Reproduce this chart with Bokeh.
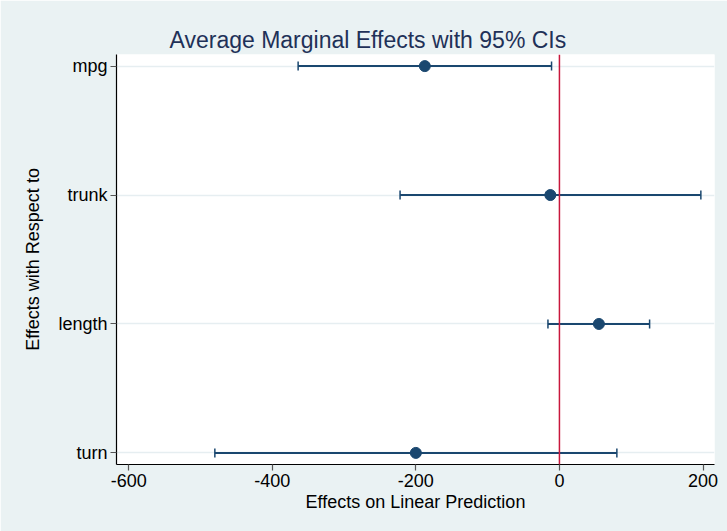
from bokeh.plotting import figure
from bokeh.models import FixedTicker, Span, Whisker, ColumnDataSource, TeeHead, Range1d
from bokeh.embed import file_html
from bokeh.resources import INLINE

# data
variables = ["mpg", "trunk", "length", "turn"]
effects = [-187.5, -12.7, 55.0, -200.0]
ci_low = [-364.0, -222.0, -16.0, -480.0]
ci_high = [-11.0, 197.0, 125.6, 80.0]
x_ticks = [-600, -400, -200, 0, 200]

ypos = [4, 3, 2, 1]
src = ColumnDataSource(dict(y=ypos, x=effects, lo=ci_low, hi=ci_high, name=variables))

NAVY = "#1A476F"
BG = "#EAF2F3"
FONT = "Liberation Sans"

p = figure(width=727, height=531, output_backend="svg", toolbar_location=None,
           x_range=Range1d(-617, 216), y_range=Range1d(0.91, 4.09),
           min_border_left=116, min_border_right=13, min_border_top=54, min_border_bottom=67)
p.background_fill_color = "white"
p.border_fill_color = BG
p.outline_line_color = None

p.title.text = "Average Marginal Effects with 95% CIs"
p.title.align = "left"
p.title.offset = 53
p.title.text_font = FONT
p.title.text_font_size = "23px"
p.title.text_font_style = "normal"
p.title.text_color = "#1F3158"
p.title.standoff = 4

# grid
p.xgrid.grid_line_color = None
p.ygrid.ticker = FixedTicker(ticks=ypos)
p.ygrid.grid_line_color = "#E6EEF1"
p.ygrid.grid_line_width = 1.5

# axes
p.xaxis.ticker = FixedTicker(ticks=x_ticks)
p.yaxis.ticker = FixedTicker(ticks=ypos)
p.yaxis.major_label_overrides = {y: n for y, n in zip(ypos, variables)}
p.xaxis.major_label_overrides = {t: str(t) for t in x_ticks}
p.xaxis.axis_label = "Effects on Linear Prediction"
p.yaxis.axis_label = "Effects with Respect to"
for ax in (p.xaxis[0], p.yaxis[0]):
    ax.axis_line_color = "black"
    ax.axis_line_width = 1.2
    ax.major_tick_line_color = "#555555"
    ax.major_tick_line_width = 1.2
    ax.major_tick_out = 6
    ax.major_tick_in = 0
    ax.minor_tick_line_color = None
    ax.major_label_text_font = FONT
    ax.major_label_text_font_size = "18px"
    ax.major_label_text_color = "black"
    ax.axis_label_text_font = FONT
    ax.axis_label_text_font_size = "18px"
    ax.axis_label_text_font_style = "normal"
    ax.axis_label_text_color = "black"
p.xaxis.major_label_standoff = 3
p.xaxis.axis_label_standoff = 2
p.yaxis.major_label_standoff = 3
p.yaxis.axis_label_standoff = 12
p.yaxis.major_label_orientation = 0

# reference line at zero
p.add_layout(Span(location=0, dimension="height", line_color="#C8173C", line_width=1.5))

# CIs
w = Whisker(source=src, base="y", lower="lo", upper="hi", dimension="width",
            line_color=NAVY, line_width=2,
            lower_head=TeeHead(size=9, line_color=NAVY, line_width=1.5),
            upper_head=TeeHead(size=9, line_color=NAVY, line_width=1.5))
p.add_layout(w)
p.scatter("x", "y", source=src, size=11, fill_color=NAVY, line_color=NAVY)

open("out.html", "w").write(file_html(p, INLINE))
